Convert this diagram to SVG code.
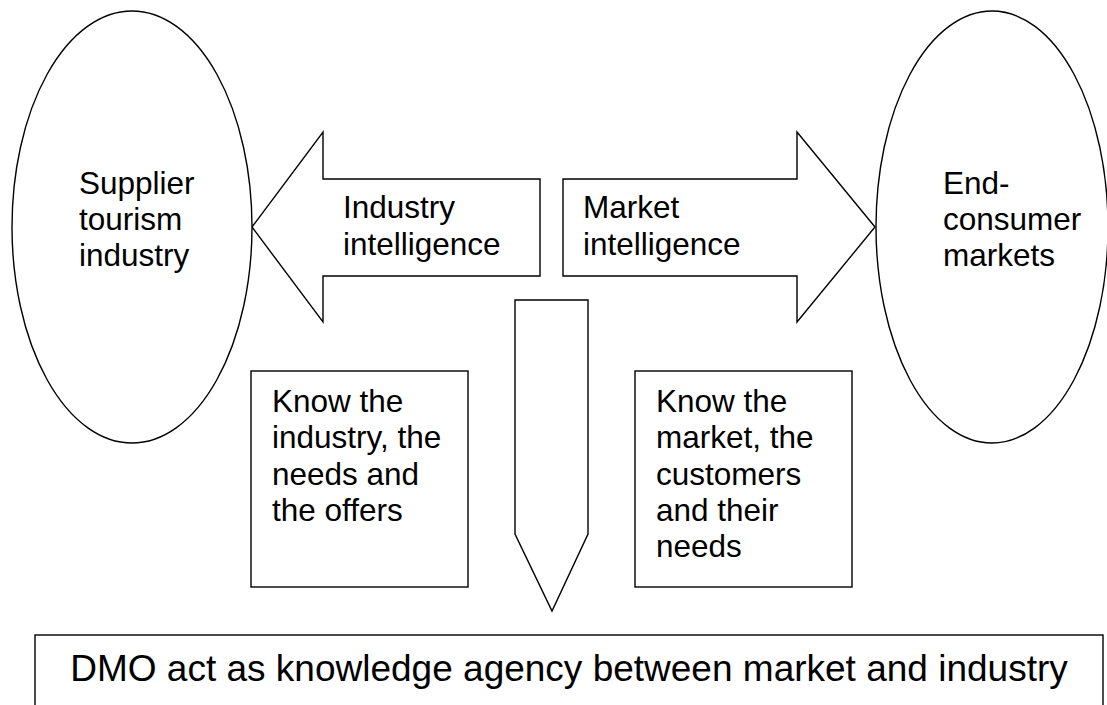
<svg xmlns="http://www.w3.org/2000/svg" width="1107" height="705" viewBox="0 0 1107 705">
<style>
.s{fill:#fff;stroke:#000;stroke-width:1.4}
.t{font-family:"Liberation Sans",Arial,sans-serif;font-size:31.5px;fill:#000}
.b{font-family:"Liberation Sans",Arial,sans-serif;font-size:37px;fill:#000}
</style>
<rect width="1107" height="705" fill="#fff"/>
<g id="connectors">
<g id="arrow-industry">
<polygon class="s" points="252,227 323,132 323,179 540,179 540,276 323,276 323,322" stroke-width="1"/>
<text class="t" x="343" y="218">Industry</text>
<text class="t" x="343" y="255">intelligence</text>
</g>
<g id="arrow-market">
<polygon class="s" points="875,227 797,132 797,179 563,179 563,276 797,276 797,322" stroke-width="1"/>
<text class="t" x="583" y="218">Market</text>
<text class="t" x="583" y="255">intelligence</text>
</g>
<g id="arrow-down">
<polygon class="s" points="515,300 588,300 588,534 552,611 515,534"/>
</g>
</g>
<g id="supplier">
<ellipse class="s" cx="132" cy="227" rx="120" ry="216"/>
<text class="t" x="79" y="194">Supplier</text>
<text class="t" x="79" y="230">tourism</text>
<text class="t" x="79" y="266">industry</text>
</g>
<g id="consumer">
<ellipse class="s" cx="992" cy="227" rx="116" ry="216"/>
<text class="t" x="943" y="194">End-</text>
<text class="t" x="943" y="230">consumer</text>
<text class="t" x="943" y="266">markets</text>
</g>
<g id="know-industry">
<rect class="s" x="251" y="371" width="217" height="216"/>
<text class="t" x="272" y="412">Know the</text>
<text class="t" x="272" y="448">industry, the</text>
<text class="t" x="272" y="485">needs and</text>
<text class="t" x="272" y="521">the offers</text>
</g>
<g id="know-market">
<rect class="s" x="635" y="371" width="217" height="216"/>
<text class="t" x="656" y="412">Know the</text>
<text class="t" x="656" y="448">market, the</text>
<text class="t" x="656" y="485">customers</text>
<text class="t" x="656" y="521">and their</text>
<text class="t" x="656" y="557">needs</text>
</g>
<g id="dmo">
<rect class="s" x="35" y="635" width="1068" height="90"/>
<text class="b" x="569" y="681" text-anchor="middle">DMO act as knowledge agency between market and industry</text>
</g>
</svg>
